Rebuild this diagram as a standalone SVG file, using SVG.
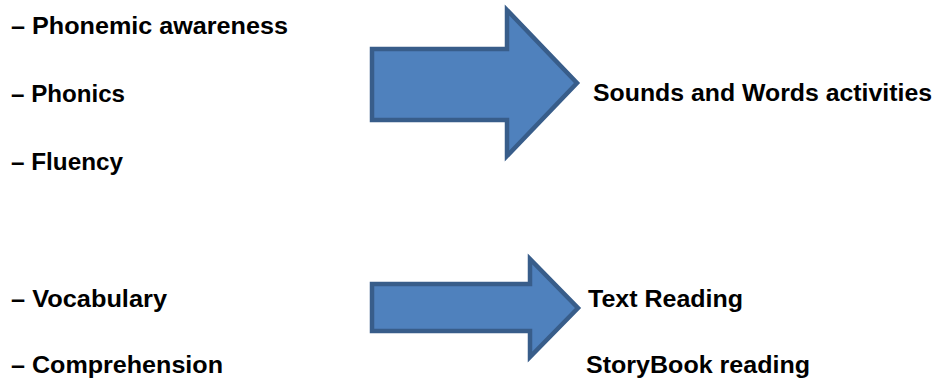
<svg xmlns="http://www.w3.org/2000/svg" width="939" height="378" viewBox="0 0 939 378">
<style>
.t{font-family:"Liberation Sans",Arial,sans-serif;font-weight:bold;font-size:23.5px;fill:#000}
.arrow{fill:#4F81BD;stroke:#385D8A;stroke-width:4.5;stroke-linejoin:miter}
</style>
<rect width="939" height="378" fill="#fff"/>
<g id="left-top">
<text class="t" x="11" y="34" textLength="277" lengthAdjust="spacingAndGlyphs">– Phonemic awareness</text>
<text class="t" x="11" y="102" textLength="114" lengthAdjust="spacingAndGlyphs">– Phonics</text>
<text class="t" x="11" y="170" textLength="112" lengthAdjust="spacingAndGlyphs">– Fluency</text>
</g>
<g id="left-bottom">
<text class="t" x="11" y="307" textLength="156" lengthAdjust="spacingAndGlyphs">– Vocabulary</text>
<text class="t" x="11" y="373" textLength="212" lengthAdjust="spacingAndGlyphs">– Comprehension</text>
</g>
<g id="connectors">
<polygon id="arrow1" class="arrow" points="372,49 507,49 507,10 577,83 507,156 507,120 372,120"/>
<polygon id="arrow2" class="arrow" points="372,284 530,284 530,259 578,308 530,357 530,331 372,331"/>
</g>
<g id="right-top">
<text class="t" x="593" y="101" textLength="339" lengthAdjust="spacingAndGlyphs">Sounds and Words activities</text>
</g>
<g id="right-bottom">
<text class="t" x="588" y="307" textLength="155" lengthAdjust="spacingAndGlyphs">Text Reading</text>
<text class="t" x="586" y="373" textLength="224" lengthAdjust="spacingAndGlyphs">StoryBook reading</text>
</g>
</svg>
